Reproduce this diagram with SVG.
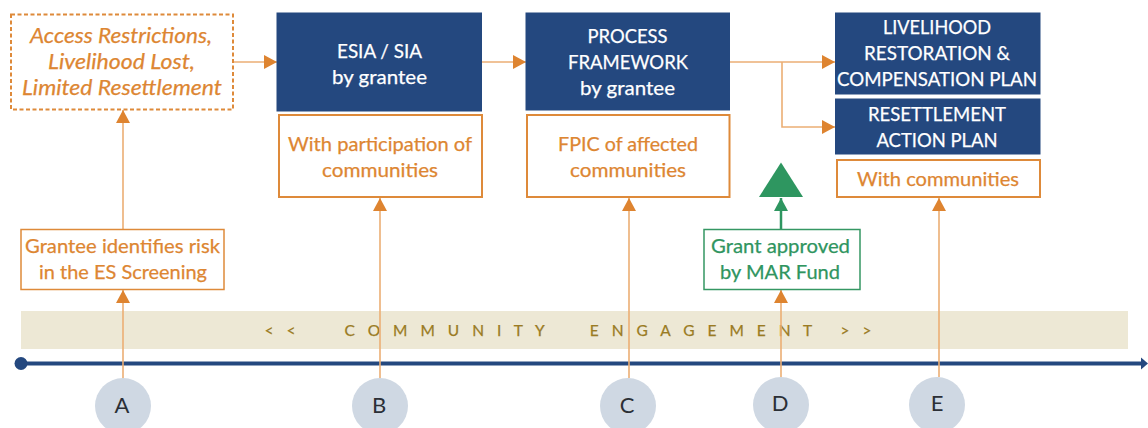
<svg xmlns="http://www.w3.org/2000/svg" width="1148" height="428" viewBox="0 0 1148 428">
<style>
text{font-family:Lato,"Liberation Sans",sans-serif;text-anchor:middle}
.t{font-size:20px;fill:#DD8632;stroke:#DD8632;stroke-width:.25}
.w{font-size:20px;fill:#fff;stroke:#fff;stroke-width:.25}
.g{font-size:20px;fill:#2F9560;stroke:#2F9560;stroke-width:.25}
.i{font-style:italic;font-size:22px}
.n{fill:#24487F}
.o{fill:#fff;stroke:#DE8A3A;stroke-width:2}
.o1{fill:#fff;stroke:#DE8A3A;stroke-width:1.5}
.l{stroke:#EBAE74;stroke-width:1.6;fill:none}
.c{fill:#CFD8E3}
.ct{font-size:22px;fill:#2b2f36}
</style>
<defs>
<marker id="a" markerUnits="userSpaceOnUse" markerWidth="15" markerHeight="15" refX="13" refY="7" orient="auto"><path d="M0 0L13 7L0 14Z" fill="#DE8430"/></marker>
<marker id="g" markerUnits="userSpaceOnUse" markerWidth="15" markerHeight="15" refX="13" refY="7" orient="auto"><path d="M0 0L13 7L0 14Z" fill="#2E9660"/></marker>
</defs>
<rect x="21" y="311" width="1107" height="38" fill="#EDE8D5"/>
<text id="band-label" y="336" style="font-size:15.500px;fill:#9A7B23;stroke:#9A7B23;stroke-width:.25;word-spacing:9px"><tspan x="280">&lt; &lt;</tspan><tspan x="444.500">C O M M U N I T Y</tspan><tspan x="701">E N G A G E M E N T</tspan><tspan x="856">&gt; &gt;</tspan></text>
<g id="timeline">
<path d="M21 363.500H1142" stroke="#24487F" stroke-width="4" fill="none"/>
<circle cx="21" cy="363.500" r="6.500" fill="#24487F"/>
<path d="M1141 357.500L1148 363.500L1141 369.500Z" fill="#24487F"/>
</g>
<g id="connectors">
<path class="l" d="M233 62H277" marker-end="url(#a)"/>
<path class="l" d="M482 62H526" marker-end="url(#a)"/>
<path class="l" d="M730 62H835" marker-end="url(#a)"/>
<path class="l" d="M782 62V127H835" marker-end="url(#a)"/>
<path class="l" d="M123 229V110" marker-end="url(#a)"/>
<path class="l" d="M123 379V290" marker-end="url(#a)"/>
<path class="l" d="M380 378V198" marker-end="url(#a)"/>
<path class="l" d="M629 378V198" marker-end="url(#a)"/>
<path class="l" d="M781 377V290" marker-end="url(#a)"/>
<path class="l" d="M939 377V198" marker-end="url(#a)"/>
<path d="M781 229V198" stroke="#2E9660" stroke-width="2.500" fill="none" marker-end="url(#g)"/>
</g>
<g id="risk">
<rect x="11" y="14.500" width="222" height="95" fill="#fff" stroke="#DE8A3A" stroke-width="2" stroke-dasharray="4 2.500"/>
<text class="t i" x="121" y="43" textLength="182" lengthAdjust="spacingAndGlyphs">Access Restrictions,</text>
<text class="t i" x="121.500" y="69" textLength="147" lengthAdjust="spacingAndGlyphs">Livelihood Lost,</text>
<text class="t i" x="122" y="95" textLength="200" lengthAdjust="spacingAndGlyphs">Limited Resettlement</text>
</g>
<g id="esia">
<rect class="n" x="276.500" y="12.500" width="205.500" height="99"/>
<text class="w" x="379.500" y="58" textLength="85" lengthAdjust="spacingAndGlyphs">ESIA / SIA</text>
<text class="w" x="379.500" y="84" textLength="95" lengthAdjust="spacingAndGlyphs">by grantee</text>
</g>
<g id="participation">
<rect class="o" x="279" y="115" width="203" height="82"/>
<text class="t" x="380" y="151" textLength="184" lengthAdjust="spacingAndGlyphs">With participation of</text>
<text class="t" x="380" y="177" textLength="116" lengthAdjust="spacingAndGlyphs">communities</text>
</g>
<g id="framework">
<rect class="n" x="525.500" y="12.500" width="204.500" height="98"/>
<text class="w" x="627.500" y="43" textLength="80" lengthAdjust="spacingAndGlyphs">PROCESS</text>
<text class="w" x="628" y="69" textLength="120" lengthAdjust="spacingAndGlyphs">FRAMEWORK</text>
<text class="w" x="627.500" y="95" textLength="95" lengthAdjust="spacingAndGlyphs">by grantee</text>
</g>
<g id="fpic">
<rect class="o" x="527" y="115" width="202.500" height="82"/>
<text class="t" x="628" y="151" textLength="140" lengthAdjust="spacingAndGlyphs">FPIC of affected</text>
<text class="t" x="628" y="177" textLength="116" lengthAdjust="spacingAndGlyphs">communities</text>
</g>
<g id="livelihood">
<rect class="n" x="835" y="12.500" width="205.500" height="82"/>
<text class="w" x="937" y="34" textLength="108" lengthAdjust="spacingAndGlyphs">LIVELIHOOD</text>
<text class="w" x="937" y="60" textLength="146" lengthAdjust="spacingAndGlyphs">RESTORATION &amp;</text>
<text class="w" x="937" y="86" textLength="200" lengthAdjust="spacingAndGlyphs">COMPENSATION PLAN</text>
</g>
<g id="rap">
<rect class="n" x="835" y="98.500" width="205.500" height="56"/>
<text class="w" x="937" y="121" textLength="138" lengthAdjust="spacingAndGlyphs">RESETTLEMENT</text>
<text class="w" x="937" y="147" textLength="121" lengthAdjust="spacingAndGlyphs">ACTION PLAN</text>
</g>
<g id="with-communities">
<rect class="o" x="837" y="160" width="203" height="37"/>
<text class="t" x="938" y="186" textLength="162" lengthAdjust="spacingAndGlyphs">With communities</text>
</g>
<g id="approved-marker">
<path d="M781 162.500L803 197H759Z" fill="#2E9660"/>
</g>
<g id="grantee-risk">
<rect class="o1" x="21" y="229.500" width="203" height="60"/>
<text class="t" x="122.500" y="253" textLength="195" lengthAdjust="spacingAndGlyphs">Grantee identifies risk</text>
<text class="t" x="123" y="279" textLength="168" lengthAdjust="spacingAndGlyphs">in the ES Screening</text>
</g>
<g id="grant">
<rect x="704" y="229.500" width="156" height="60" fill="#fff" stroke="#359763" stroke-width="1.500"/>
<text class="g" x="780.500" y="253" textLength="139" lengthAdjust="spacingAndGlyphs">Grant approved</text>
<text class="g" x="780" y="279" textLength="120" lengthAdjust="spacingAndGlyphs">by MAR Fund</text>
</g>
<g id="node-a"><circle class="c" cx="123" cy="406" r="28"/><text class="ct" x="122" y="413">A</text></g>
<g id="node-b"><circle class="c" cx="380" cy="406" r="28"/><text class="ct" x="379" y="413">B</text></g>
<g id="node-c"><circle class="c" cx="628" cy="406" r="28"/><text class="ct" x="627" y="413">C</text></g>
<g id="node-d"><circle class="c" cx="781" cy="405" r="28"/><text class="ct" x="780" y="411">D</text></g>
<g id="node-e"><circle class="c" cx="937" cy="405" r="28"/><text class="ct" x="937" y="411">E</text></g>
</svg>
